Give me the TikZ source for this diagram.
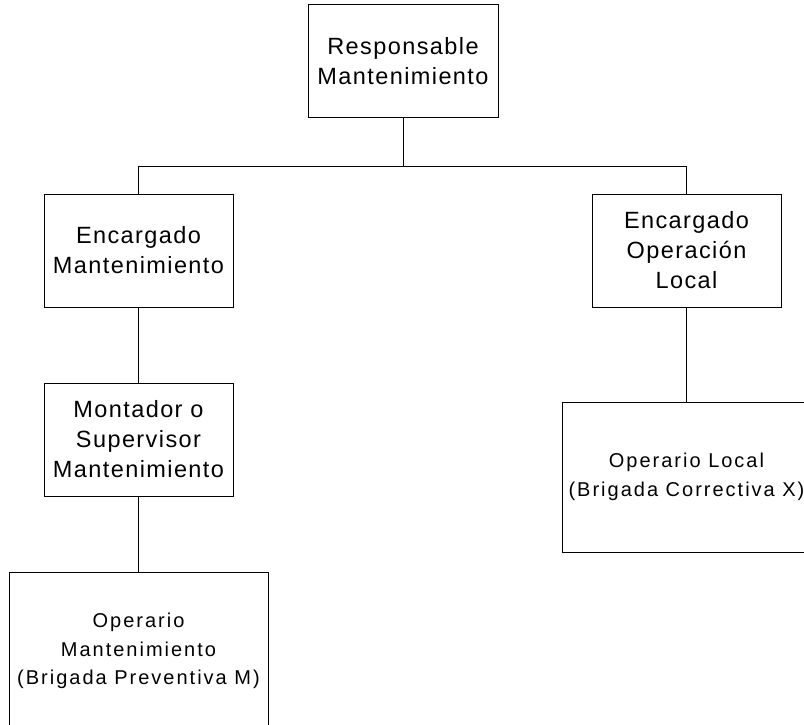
\documentclass[tikz,border=0pt]{standalone}
\usepackage{fontspec}
\setmainfont{Liberation Sans}
\newfontfamily\bigfont[LetterSpace=6]{Liberation Sans}
\newfontfamily\smallfont[LetterSpace=10]{Liberation Sans}
\begin{document}
\begin{tikzpicture}[x=1pt,y=1pt]
\tikzset{
  box/.style={draw, line width=1pt, inner sep=0pt, align=center,
              minimum width=189pt, minimum height=113pt},
  bigtxt/.style={font=\bigfont\fontsize{23.5}{30}\selectfont, align=center},
  smalltxt/.style={font=\smallfont\fontsize{20}{28.5}\selectfont, align=center},
  wire/.style={draw, line width=1pt}
}
\useasboundingbox (0,0) rectangle (804,-725);

% top level
\node[box, bigtxt, minimum width=190pt] (rm) at (403,-61.5) {Responsable\\Mantenimiento};

% second level
\node[box, bigtxt] (em) at (138.5,-250.5) {Encargado\\Mantenimiento};
\node[box, bigtxt] (eo) at (686.5,-250.5) {Encargado\\Operación\\Local};

% third level
\node[box, bigtxt] (ms) at (138.5,-439.5) {Montador o\\Supervisor\\Mantenimiento};
\node[box, smalltxt, minimum width=248pt, minimum height=150pt] (ol) at (686.5,-477)
  {Operario Local\\(Brigada Correctiva X)};

% bottom level (runs past the lower edge)
\node[box, minimum width=259pt, minimum height=188pt, anchor=north] (om) at (138.5,-572) {};
\node[smalltxt, inner sep=0pt] (omtxt) at ([yshift=-79pt]om.north)
  {Operario\\Mantenimiento\\(Brigada Preventiva M)};

% connectors
\draw[wire] (rm.south) -- ++(0,-48) -| (em.north);
\draw[wire] (rm.south) -- ++(0,-48) -| (eo.north);
\draw[wire] (em.south) -- (ms.north);
\draw[wire] (ms.south) -- (om.north);
\draw[wire] (eo.south) -- (ol.north);
\end{tikzpicture}
\end{document}
